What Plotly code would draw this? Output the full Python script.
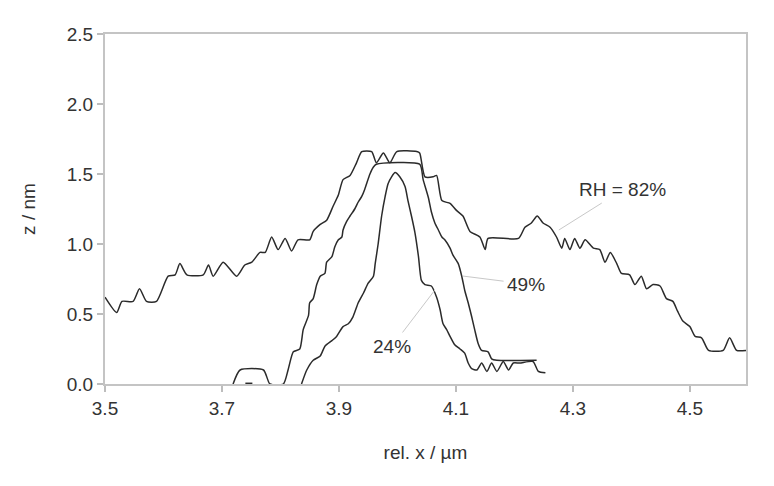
import plotly.graph_objects as go

# RH = 82 %
x82 = [3.500, 3.520, 3.529, 3.548, 3.559, 3.571, 3.588, 3.608, 3.620, 3.628, 3.640, 3.668, 3.677, 3.685,
       3.702, 3.725, 3.739, 3.751, 3.765, 3.774, 3.785, 3.796, 3.808, 3.819, 3.830, 3.850, 3.856, 3.868,
       3.879, 3.890, 3.899, 3.907, 3.919, 3.930, 3.939, 3.956, 3.964, 3.976, 3.987, 3.999, 4.033, 4.038,
       4.047, 4.061, 4.067, 4.076, 4.090, 4.101, 4.112, 4.124, 4.141, 4.150, 4.155, 4.207, 4.218, 4.229,
       4.239, 4.249, 4.261, 4.272, 4.281, 4.286, 4.295, 4.303, 4.312, 4.321, 4.335, 4.346, 4.355, 4.364,
       4.375, 4.383, 4.397, 4.406, 4.417, 4.426, 4.437, 4.449, 4.460, 4.471, 4.479, 4.488, 4.500, 4.509,
       4.520, 4.532, 4.557, 4.568, 4.580, 4.596]
y82 = [0.62, 0.51, 0.59, 0.59, 0.68, 0.59, 0.59, 0.77, 0.78, 0.86, 0.78, 0.78, 0.85, 0.77,
       0.87, 0.77, 0.85, 0.87, 0.94, 0.94, 1.05, 0.96, 1.04, 0.95, 1.03, 1.03, 1.09, 1.14,
       1.17, 1.27, 1.35, 1.46, 1.49, 1.58, 1.66, 1.66, 1.58, 1.65, 1.58, 1.66, 1.66, 1.65,
       1.48, 1.48, 1.49, 1.31, 1.29, 1.24, 1.20, 1.09, 1.05, 0.96, 1.04, 1.04, 1.12, 1.15,
       1.20, 1.15, 1.12, 1.05, 0.97, 1.04, 0.96, 1.04, 0.97, 1.03, 0.97, 0.96, 0.87, 0.94,
       0.86, 0.79, 0.78, 0.71, 0.77, 0.68, 0.71, 0.70, 0.61, 0.59, 0.52, 0.45, 0.41, 0.34,
       0.33, 0.24, 0.24, 0.33, 0.24, 0.24]

# RH = 49 %
x49 = [3.719, 3.731, 3.771, 3.782, 3.805, 3.813, 3.822, 3.833, 3.839, 3.848, 3.850, 3.856, 3.862, 3.868,
       3.876, 3.879, 3.888, 3.893, 3.899, 3.905, 3.907, 3.913, 3.919, 3.927, 3.933, 3.939, 3.944, 3.953,
       3.959, 3.964, 4.038, 4.044, 4.053, 4.058, 4.064, 4.070, 4.076, 4.081, 4.090, 4.095, 4.104, 4.110,
       4.115, 4.121, 4.127, 4.132, 4.138, 4.144, 4.155, 4.161, 4.170, 4.238]
y49 = [0.00, 0.10, 0.10, 0.00, 0.00, 0.10, 0.23, 0.25, 0.39, 0.49, 0.58, 0.61, 0.71, 0.77,
       0.79, 0.87, 0.91, 0.98, 1.03, 1.05, 1.10, 1.16, 1.20, 1.25, 1.30, 1.34, 1.39, 1.50,
       1.55, 1.57, 1.57, 1.46, 1.33, 1.23, 1.15, 1.10, 1.05, 1.03, 0.97, 0.92, 0.86, 0.77,
       0.67, 0.58, 0.48, 0.39, 0.29, 0.24, 0.23, 0.18, 0.17, 0.17]

# RH = 24 %
x24 = [3.740, 3.752, None, 3.836, 3.845, 3.856, 3.868, 3.876, 3.888, 3.896, 3.907, 3.916, 3.924, 3.933,
       3.942, 3.950, 3.959, 3.962, 3.967, 3.973, 3.979, 3.984, 3.990, 3.996, 4.004, 4.013, 4.018,
       4.024, 4.030, 4.036, 4.041, 4.047, 4.058, 4.067, 4.073, 4.078, 4.084, 4.090, 4.098, 4.107,
       4.115, 4.121, 4.127, 4.136, 4.144, 4.153, 4.161, 4.170, 4.181, 4.190, 4.198, 4.209, 4.232,
       4.241, 4.253]
y24 = [0.005, 0.005, None, 0.00, 0.10, 0.17, 0.20, 0.27, 0.31, 0.34, 0.41, 0.43, 0.48, 0.58,
       0.65, 0.72, 0.77, 0.86, 1.00, 1.20, 1.34, 1.43, 1.48, 1.51, 1.48, 1.41, 1.31,
       1.20, 1.08, 0.91, 0.74, 0.71, 0.70, 0.62, 0.53, 0.43, 0.39, 0.34, 0.28, 0.25,
       0.22, 0.15, 0.11, 0.10, 0.15, 0.09, 0.15, 0.09, 0.16, 0.10, 0.15, 0.15, 0.16,
       0.09, 0.08]

x_ticks = [3.5, 3.7, 3.9, 4.1, 4.3, 4.5]
x_tick_labels = ["3.5", "3.7", "3.9", "4.1", "4.3", "4.5"]
y_ticks = [0.0, 0.5, 1.0, 1.5, 2.0, 2.5]
y_tick_labels = ["0.0", "0.5", "1.0", "1.5", "2.0", "2.5"]

# labels: (text, arrow tip x, tip y, text x, text y)
labels = [
    ("RH = 82%", 4.276, 1.10, 4.385, 1.386),
    ("49%", 4.112, 0.771, 4.220, 0.714),
    ("24%", 4.064, 0.671, 3.991, 0.271),
]

FONT = "Liberation Sans, Arial, sans-serif"
line_style = dict(color="#2b2b2b", width=1.5, shape="spline", smoothing=0.6)

fig = go.Figure()
for xs, ys, nm in [(x82, y82, "82%"), (x49, y49, "49%"), (x24, y24, "24%")]:
    fig.add_trace(go.Scatter(x=xs, y=ys, mode="lines", name=nm, line=line_style,
                             connectgaps=False, showlegend=False))

for text, tx, ty, lx, ly in labels:
    fig.add_annotation(x=tx, y=ty, ax=lx, ay=ly, axref="x", ayref="y", xref="x", yref="y",
                       text=text, showarrow=True, arrowhead=0, arrowwidth=1,
                       arrowcolor="#c8c8c8", standoff=0, startstandoff=2,
                       font=dict(family=FONT, size=19, color="#333333"))

axis_common = dict(showgrid=False, zeroline=False, showline=True, linecolor="#c4c4c4", linewidth=2,
                   mirror=True, ticks="outside", ticklen=6, tickwidth=1.5, tickcolor="#bdbdbd",
                   tickfont=dict(family=FONT, size=19, color="#333333"))

fig.update_xaxes(range=[3.5, 4.596], tickvals=x_ticks, ticktext=x_tick_labels,
                 title=dict(text="rel. x / µm", standoff=28,
                            font=dict(family=FONT, size=19, color="#333333")),
                 **axis_common)
fig.update_yaxes(range=[0, 2.5], tickvals=y_ticks, ticktext=y_tick_labels,
                 title=dict(text="z / nm", standoff=26,
                            font=dict(family=FONT, size=19, color="#333333")),
                 **axis_common)

# page body adds an 8px offset; size/margins compensate so the plot area lands where the reference has it
fig.update_layout(width=766, height=478, margin=dict(l=97, r=28, t=26, b=102),
                  plot_bgcolor="white", paper_bgcolor="white")

fig.write_html("out.html")
